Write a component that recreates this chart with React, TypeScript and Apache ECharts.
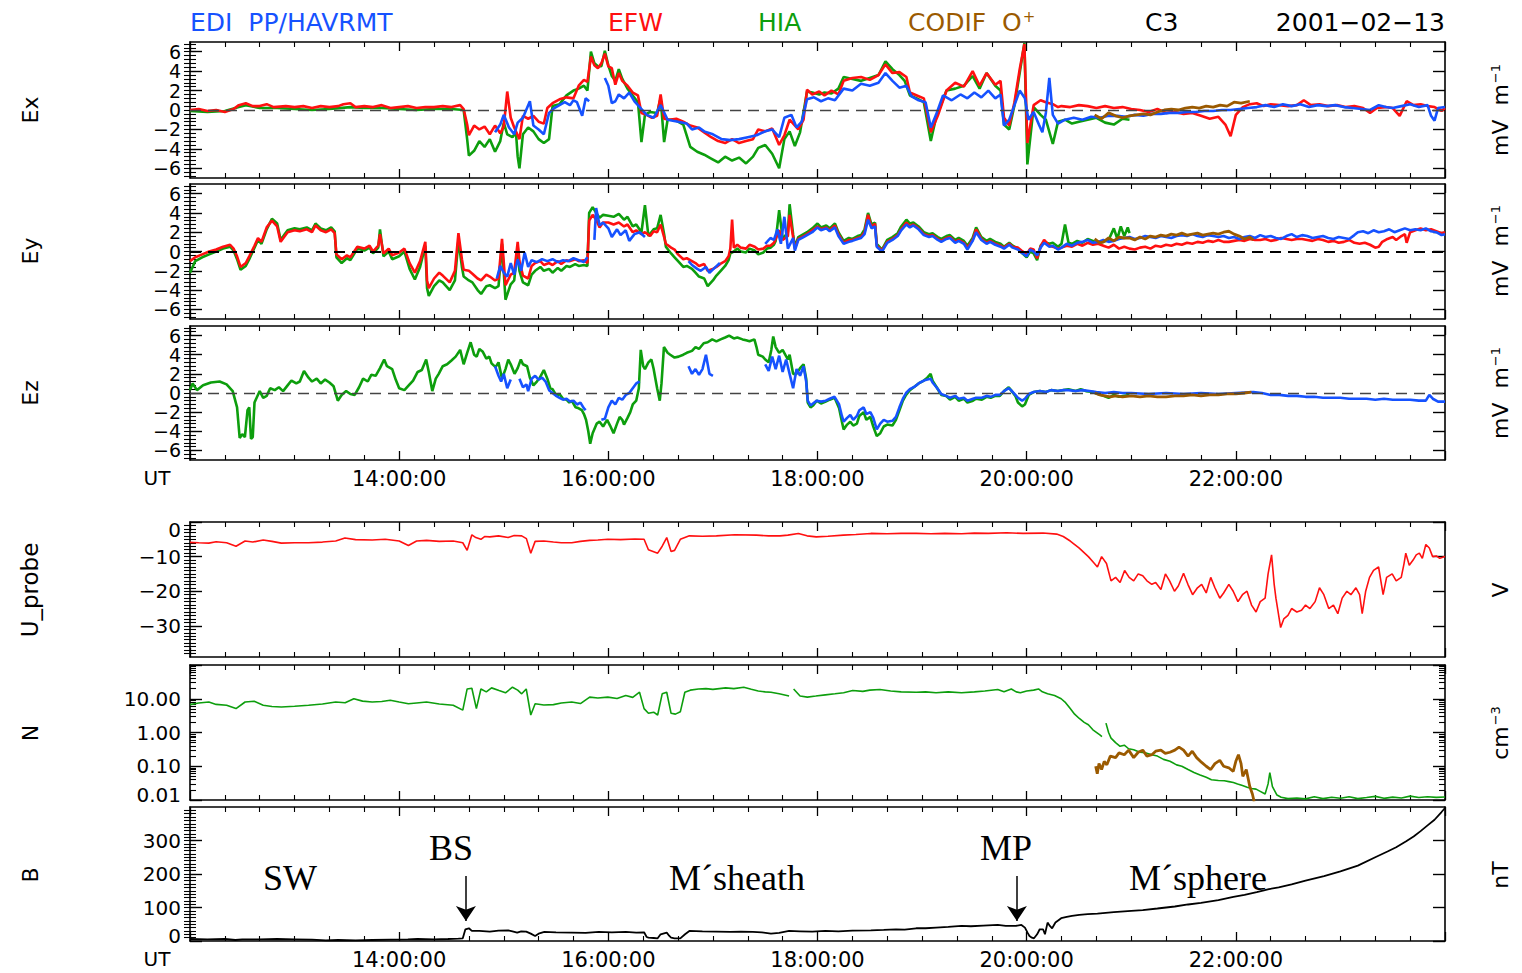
import React, { useEffect, useRef } from 'react';
import * as echarts from 'echarts';

type P = [number, number | null];

// x values are minutes after 12:00 UT (2001-02-13)
const X_MIN = 0;
const X_MAX = 720;
const X_STEP = 120;

const E_LABELS = [-6, -4, -2, 0, 2, 4, 6];
const U_LABELS = [-30, -20, -10, 0];
const B_LABELS = [0, 100, 200, 300];

// ---------------- Ex (mV/m) ----------------
const EX_EFW: P[] = [[0,0],[5,.1],[10,-.1],[15,0],[20,-.2],[25,.1],[28,.5],[32,.7],[36,.4],[40,.4],[44,.6],[48,.3],[55,.4],[60,.3],[65,.4],[70,.2],[75,.4],[80,.3],[85,.4],[88,.6],[92,.7],[95,.3],[100,.4],[105,.3],[110,.5],[115,.2],[120,.3],[125,.4],[130,.2],[135,.3],[140,.3],[145,.4],[150,.3],[155,.5],[157,.1],[159,-1.5],[160,-2.6],[163,-1.6],[166,-2],[169,-1.7],[172,-2.5],[175,-1.6],[178,-2.4],[180,-1.7],[182,1.9],[184,-.8],[186,-1.8],[188,-2.6],[189,-3],[191,-.6],[194,-.9],[197,-.6],[200,-1.2],[203,-1.4],[205,.2],[208,.7],[212,1.1],[216,1.3],[220,1.2],[223,2.5],[226,3.1],[228,2.9],[230,5.5],[232,4.6],[234,4.3],[236,4.8],[238,5.8],[240,4.5],[242,4.3],[244,2.6],[246,3.8],[248,3],[251,2.5],[254,1.8],[257,1.5],[259,-.3],[262,-.5],[265,-.8],[268,-.6],[270,1.6],[272,-.9],[275,-1],[279,-.9],[283,-1.2],[287,-1.6],[291,-1.8],[295,-2.3],[299,-2.8],[303,-3.2],[307,-3.4],[311,-3],[315,-3.4],[319,-3.2],[323,-3],[326,-2],[330,-2.2],[334,-1.9],[338,-3.6],[341,-2.6],[344,-1],[349,-2],[352,-1],[354,2.1],[357,1.6],[361,1.9],[364,1.5],[368,2],[372,1.6],[375,3],[380,3.3],[385,3.4],[390,3.1],[395,3.6],[399,4.7],[403,3.8],[407,3.9],[411,3.4],[413,1.8],[417,1.5],[421,1.2],[425,-2.3],[429,-.6],[434,2],[439,2.8],[444,2.4],[449,4],[453,2.5],[457,3.8],[462,2.6],[465,3],[467,-.8],[470,-1.6],[473,.8],[476,4.2],[478.7,6.8],[480.4,-3.4],[484,.5],[488,1],[491,.8],[495,.6],[498,.3],[500,.4],[505,.3],[510,.5],[515,.4],[520,.2],[525,.4],[530,.2],[535,.3],[540,.1],[545,0],[550,-.2],[555,.1],[560,-.3],[565,-.2],[570,-.4],[575,-.3],[580,-.6],[585,-.9],[590,-.7],[594,-1.5],[597,-2.7],[600,-.5],[604,.3],[608,.6],[612,.7],[616,.4],[620,.6],[625,.5],[630,.4],[635,.5],[639,1],[643,.5],[648,.6],[653,.4],[658,.5],[663,.3],[668,.4],[673,.2],[677,-.3],[681,.2],[686,.3],[690,.2],[694,-.6],[698,.9],[702,.5],[706,.6],[710,.4],[714,.3],[718,-.1],[720,.2]];
const EX_HIA: P[] = [[0,-.1],[10,-.2],[20,-.1],[28,.3],[32,.5],[40,.2],[50,.2],[60,.1],[70,0],[80,.1],[92,.3],[100,.2],[110,.2],[120,.1],[130,0],[140,.1],[150,.1],[157,0],[159,-3],[160,-4.7],[163,-4.2],[166,-3.2],[169,-3.8],[172,-3],[175,-4.3],[178,-3.2],[180,-1.3],[182,-2.5],[185,-2.8],[187,-2.3],[188,-4.8],[189,-6],[191,-2.5],[194,-1.8],[197,-2.2],[200,-3],[203,-3.4],[206,-3],[208,.4],[212,.6],[216,1.5],[220,2],[223,2.2],[226,2.5],[228,2],[230,6],[232,4.8],[234,4.5],[236,4.5],[238,6.1],[240,4.6],[242,3.5],[244,3],[246,4.2],[248,3.2],[251,2.2],[254,1.5],[257,.8],[259,-3.3],[261,-.5],[264,-.2],[268,-.3],[270,1.2],[272,-3.3],[274,-1],[278,-1],[283,-1.5],[287,-3.8],[291,-4.3],[295,-4.6],[299,-5],[303,-5.4],[307,-4.8],[311,-5.2],[315,-4.9],[319,-5.5],[323,-4.8],[326,-3.9],[330,-3.6],[334,-4.5],[338,-6],[341,-3],[344,-2.2],[347,-3.7],[350,-2.3],[354,1.9],[357,1.8],[361,1.6],[364,1.8],[368,1.7],[372,2.2],[375,3.4],[380,3.2],[385,3],[390,3.3],[395,3.6],[399,5],[403,4.2],[407,3.6],[410,3],[413,1.5],[417,1.2],[421,.8],[425,-3.2],[428,-.8],[434,2],[439,2.2],[444,2.5],[449,3.5],[453,2.2],[457,3.8],[462,2.5],[465,2],[467,-1.5],[470,-2],[473,.5],[476,3.8],[478.7,6.9],[480.4,-5.6],[484,.3],[488,-.5],[491,-1],[495,-3.5],[498,-1.2],[502,-1],[506,-1.4],[510,-1.2],[515,-1],[520,-.8],[525,-1.3],[530,-1.5],[535,-.9],[539,-1]];
const EX_EDI: P[] = [[175,-2.3],[178,-1.5],[180,-.5],[183,-1.8],[186,-2.5],[188,-1.3],[191,-.8],[195,.9],[197,-1.6],[200,-2],[203,-2.5],[206,-.3],[209,.2],[212,.5],[215,.8],[218,.5],[220,1],[222,.8],[225,-.6],[227,1.2],[229,.9],[233,null],[238,3.3],[240,2.5],[242,.7],[244,.9],[246,1.6],[249,1.2],[252,1.8],[255,.9],[258,.3],[262,-.5],[266,-.8],[270,.5],[274,-1],[280,-1.2],[285,-1.4],[288,-2],[292,-1.8],[295,-2.2],[300,-2.5],[305,-3],[310,-3.1],[315,-3],[320,-2.8],[325,-2.6],[330,-2.2],[334,-2],[338,-2.8],[341,-.8],[345,-.5],[348,-1.8],[351,-1.2],[354,1.1],[358,1.3],[362,.9],[366,1.2],[370,1],[375,2.2],[380,2],[385,2.7],[390,2.5],[395,2.8],[399,3.8],[403,3],[407,2.3],[411,2.5],[414,1.4],[418,1],[422,.8],[425,-1.8],[428,-.5],[432,1.5],[437,1],[442,1.6],[446,1.2],[450,1.8],[454,1.3],[458,2],[462,1.2],[465,1.6],[467,-1.6],[470,-1],[473,.5],[476,2],[479,1.2],[481,-1],[484,-.2],[487,-1.5],[489,-2.3],[491,-.3],[493,3.3],[495,-.5],[498,-1.4],[502,-1],[507,-.8],[512,-1],[517,-.7],[522,-.8],[527,-.6],[532,-.6],[537,-.7],[542,-.5],[547,-.6],[552,-.4],[557,-.4],[562,-.3],[567,-.3],[572,-.2],[577,-.2],[582,-.1],[587,-.1],[592,0],[597,0],[602,.1],[607,.2],[612,.3],[617,.5],[622,.3],[627,.6],[632,.4],[637,.6],[642,.3],[647,.5],[652,.4],[657,.5],[662,.3],[667,.2],[672,.1],[677,0],[682,.5],[686,.3],[690,.2],[695,.4],[700,.6],[705,.3],[710,.5],[712,-.6],[714,-1.1],[716,.2],[720,.3]];
const EX_CODIF: P[] = [[519,-.5],[523,-.9],[527,-.3],[531,-.6],[535,-.8],[539,-.6],[543,-.5],[547,-.4],[551,-.5],[555,-.2],[559,0],[563,.1],[567,0],[571,.2],[575,.3],[579,.2],[583,.4],[587,.3],[591,.5],[595,.4],[599,.8],[603,.7],[608,.9]];

// ---------------- Ey (mV/m) ----------------
const EY_EFW: P[] = [[0,-1],[3,-.6],[7,-.3],[11,0],[15,.2],[19,.5],[23,.7],[25,.3],[27,-.5],[29,-1.6],[32,-1.2],[34,-.5],[37,.6],[39,1.4],[41,1],[44,2.5],[47,3.2],[50,2.6],[52,1],[54,1.5],[56,2],[60,2.2],[63,2.1],[67,2.3],[70,2],[72,2.7],[75,2.2],[78,2],[81,2.3],[83,1.9],[84,-.3],[87,-.8],[90,-.4],[92,-.6],[96,.5],[100,.3],[103,.6],[105,0],[108,.6],[109,1.8],[111,-.2],[114,.3],[116,-.4],[120,-.1],[123,.3],[126,-1.2],[129,-2.2],[132,-1],[135,1],[136,-3],[137,-3.8],[140,-2.8],[143,-2.2],[145,-2.5],[149,-3.2],[152,-2],[154,1.9],[156,-.8],[157,-1.9],[160,-2],[162,-2.3],[165,-2.8],[167,-3],[170,-2.4],[172,-2.6],[175,-3],[177,-2.8],[179,1.3],[181,-3.5],[184,-2.4],[186,-2.2],[188,1],[189,-1],[191,-2.5],[194,-2.8],[196,-1.5],[198,-1.2],[201,-1],[203,-1.4],[206,-1.2],[208,-1.4],[211,-1],[213,-1.3],[216,-.9],[218,-1],[221,-.8],[223,-1],[226,-.9],[228,-1.2],[229,3.2],[231,3.8],[233,3.3],[235,2.5],[237,3],[240,3],[243,2.8],[246,3],[249,2.6],[251,2.8],[254,2],[256,2.2],[259,1.8],[261,2],[264,1.6],[266,2.1],[268,2],[270,2.8],[272,1.5],[273,.8],[276,.4],[278,.2],[280,-.3],[283,-.8],[285,-.7],[288,-1],[290,-1.2],[292,-1.5],[295,-1.3],[297,-2],[300,-1.8],[302,-1.6],[305,-1.2],[307,-1],[309,-.5],[310,.3],[311,3.3],[312,.4],[314,.7],[316,.4],[319,.3],[321,.7],[324,.5],[326,.2],[329,.3],[331,.6],[333,.6],[335,.9],[336,1.3],[338,2.2],[340,1.2],[343,1.6],[344,3.8],[346,1.5],[347,.3],[349,1.3],[352,1.6],[354,1.8],[357,2.2],[360,2.6],[362,2.3],[365,2.5],[367,2.2],[370,2.7],[372,1.8],[375,.9],[378,1.2],[380,1.2],[383,1.4],[385,1.5],[387,2],[389,3.8],[391,2.5],[393,2.9],[394,.6],[397,.1],[400,1],[403,1.3],[406,1.7],[408,2.3],[411,3],[413,2.6],[415,2.8],[418,2.4],[421,1.8],[424,1.6],[426,1.7],[429,1.3],[431,1.1],[434,1.4],[436,1.5],[439,1],[441,1.2],[444,.9],[446,.4],[449,1.2],[451,2.3],[454,1.3],[457,.9],[459,1.1],[462,.8],[465,.6],[467,.4],[470,.8],[472,.5],[475,.4],[477,.1],[480,-.3],[482,.3],[484,.2],[486,-.7],[488,.5],[490,1.2],[493,.6],[495,.5],[498,.3],[500,.4],[503,.6],[506,.5],[509,.8],[512,.6],[515,.9],[518,.7],[521,.8],[524,.6],[527,.4],[530,.7],[533,.3],[536,.5],[539,.3],[542,.2],[545,.4],[548,.5],[551,.3],[554,.6],[557,.5],[560,.7],[563,.6],[566,.8],[569,.7],[572,.9],[575,.8],[578,1],[581,.9],[584,1.1],[587,1],[590,1.2],[593,1],[596,1],[599,1.1],[602,1.2],[605,1.1],[608,1.3],[611,1.2],[614,1.2],[617,1.3],[620,1.1],[623,1.2],[626,1.4],[629,1.3],[632,1.2],[635,1.3],[638,1.3],[641,1.2],[644,1.1],[647,1.3],[650,1.2],[653,1],[656,1.1],[659,.9],[662,1],[665,1.2],[668,.9],[671,.8],[674,.9],[677,.7],[680,.4],[682,.5],[684,1],[687,1.3],[690,1.5],[692,1.2],[695,1.6],[697,1.8],[698,.9],[700,2],[703,2.2],[706,2.4],[709,2.2],[712,2.3],[715,2.1],[718,1.9],[720,2]];
const EY_HIA: P[] = [[0,-2.2],[3,-1],[7,-.6],[11,-.3],[15,0],[19,.3],[23,.5],[25,.1],[27,-.8],[29,-1.9],[32,-1.5],[34,-.8],[37,.4],[39,1.2],[41,.8],[44,2.3],[47,3.4],[50,2.9],[52,1.2],[54,1.7],[56,2.2],[60,2.4],[63,2.3],[67,2.5],[70,2.2],[72,2.9],[75,2.4],[78,2.2],[81,2.5],[83,2.1],[84,-.6],[87,-1.2],[90,-.7],[92,-.9],[96,.3],[100,.1],[103,.4],[105,-.2],[108,.4],[109,2.3],[111,-.5],[114,0],[116,-.8],[120,-.5],[123,0],[126,-1.8],[129,-2.9],[132,-1.6],[135,.6],[136,-3.8],[137,-4.6],[140,-3.6],[143,-3],[145,-3.2],[149,-4],[152,-3],[154,1.2],[156,-1.6],[157,-2.6],[160,-3],[162,-3.2],[165,-4],[167,-4.4],[170,-3.6],[172,-3.5],[175,-3.8],[177,-3.6],[179,.8],[181,-5],[184,-3.4],[186,-3],[188,.5],[189,-2],[191,-3.2],[194,-3.5],[196,-2.4],[198,-2],[201,-1.6],[203,-2],[206,-1.8],[208,-2.2],[211,-1.7],[213,-2],[216,-1.5],[218,-1.6],[221,-1.3],[223,-1.5],[226,-1.4],[228,-1.5],[229,4],[231,4.6],[233,4],[235,3.5],[237,3.8],[240,3.7],[243,3.6],[246,3.9],[249,3.3],[251,3.6],[254,2.6],[256,2.8],[259,2],[261,4.8],[263,1.6],[266,2.3],[268,2.4],[270,3.8],[272,1.8],[273,.5],[276,-.2],[278,-.6],[280,-1],[283,-1.6],[285,-1.5],[288,-1.8],[290,-2.2],[292,-2.6],[295,-2.8],[297,-3.6],[300,-3],[302,-2.5],[305,-1.9],[307,-1.5],[309,-.9],[310,-.2],[312,0],[314,.3],[316,0],[319,-.1],[321,.3],[324,.1],[326,-.3],[329,-.1],[331,.3],[333,.4],[335,.7],[336,1.1],[338,4.3],[340,1.3],[343,2],[344,4.9],[346,1.8],[347,.5],[349,1.5],[352,1.8],[354,2],[357,2.4],[360,2.9],[362,2.5],[365,2.7],[367,2.4],[370,2.9],[372,2],[375,1.1],[378,1.4],[380,1.3],[383,1.6],[385,1.7],[387,2.3],[389,4],[391,2.8],[393,3],[394,.8],[397,.2],[400,1.2],[403,1.5],[406,1.9],[408,2.6],[411,3.3],[413,2.9],[415,3],[418,2.6],[421,2],[424,1.8],[426,1.9],[429,1.5],[431,1.3],[434,1.6],[436,1.7],[439,1.2],[441,1.4],[444,1.1],[446,.6],[449,1.4],[451,2.5],[454,1.5],[457,1.1],[459,1.3],[462,1],[465,.8],[467,.5],[470,.9],[472,.6],[475,.3],[477,-.1],[480,-.6],[482,0],[484,-.2],[486,-.9],[488,.6],[490,1],[493,.8],[495,.9],[498,.5],[500,.8],[502,2.8],[504,.9],[506,.8],[509,1.1],[512,.9],[515,1.3],[518,1.1],[521,.9],[524,1],[527,1.2],[530,2.4],[532,1.3],[534,2.6],[536,1.6],[538,2.5],[539,1.9]];
const EY_EDI: P[] = [[176,-2.8],[178,-1.5],[180,-2.2],[182,-2.6],[184,-1.2],[186,-2.4],[188,-.8],[190,-2],[192,-.1],[194,-1.6],[196,-.9],[199,-1.1],[202,-.8],[205,-1],[208,-.8],[211,-1.1],[214,-.9],[217,-1],[220,-.7],[223,-.9],[226,-1.1],[228,-.6],[230,null],[232,1.2],[233,4.5],[235,2.7],[237,3],[240,2.4],[242,1.5],[245,2.3],[247,1.7],[250,2.2],[252,1.1],[255,1.8],[258,2],[261,1.5],[270,null],[286,-1],[288,-1.4],[291,-1.8],[293,-2],[296,-1.6],[298,-2.2],[301,-1.7],[304,-1.2],[315,null],[330,.8],[333,1.4],[335,1.2],[337,2.3],[339,.8],[341,3.6],[343,.3],[346,1.4],[347,.1],[349,1.2],[352,1.5],[354,1.7],[357,2],[360,2.5],[362,2.2],[365,2.4],[367,2.1],[370,2.5],[372,1.6],[375,.8],[378,1],[380,1.1],[383,1.3],[385,1.4],[387,1.8],[389,3.3],[391,2.4],[393,2.6],[394,.5],[397,0],[400,.9],[403,1.2],[406,1.6],[408,2.2],[411,2.8],[413,2.5],[415,2.7],[418,2.3],[421,1.7],[424,1.5],[426,1.6],[429,1.2],[431,1],[434,1.3],[436,1.4],[439,.9],[441,1.1],[444,.8],[446,.2],[449,1.1],[451,2],[454,1.2],[457,.8],[459,1],[462,.7],[465,.5],[467,.3],[470,.7],[472,.4],[475,.2],[477,-.1],[480,-.5],[482,.2],[484,0],[486,-.4],[488,.4],[490,.9],[493,.5],[495,.6],[498,.2],[500,.4],[503,.8],[506,.6],[509,.9],[512,1],[515,1.2],[518,.9],[521,1],[524,1.2],[527,1],[530,1.1],[533,1.3],[536,1.4],[539,1.5],[542,1.3],[545,1.4],[548,1.6],[551,1.5],[554,1.4],[557,1.6],[560,1.5],[563,1.4],[566,1.6],[569,1.7],[572,1.6],[575,1.8],[578,1.6],[581,1.5],[584,1.7],[587,1.6],[590,1.5],[593,1.6],[596,1.4],[599,1.5],[602,1.3],[605,1.5],[608,1.6],[611,1.4],[614,1.7],[617,1.5],[620,1.6],[623,1.4],[626,1.3],[629,1.6],[632,1.8],[635,1.5],[638,1.7],[641,1.6],[644,1.4],[647,1.5],[650,1.6],[653,1.4],[656,1.3],[659,1.5],[662,1.4],[665,1.3],[668,1.7],[670,2],[673,2.1],[676,1.9],[679,2.2],[682,2],[685,2.1],[688,2.3],[691,2],[694,2.2],[697,2.4],[700,2.2],[703,2.3],[706,2.2],[709,2.4],[712,2.1],[715,2],[718,1.7],[720,1.8]];
const EY_CODIF: P[] = [[519,1.3],[522,.9],[524,1],[527,1.4],[530,1.1],[533,1.5],[536,1.4],[539,1.4],[542,1.2],[545,1.5],[548,1.3],[551,1.6],[554,1.5],[557,1.7],[560,1.6],[563,1.8],[566,1.7],[569,1.9],[572,1.7],[575,1.8],[578,1.9],[581,1.7],[584,1.8],[587,1.9],[590,1.8],[593,2],[596,2.1],[599,1.8],[602,1.6],[605,1.3],[608,1.5],[610,1.2]];

// ---------------- Ez (mV/m) ----------------
const EZ_HIA: P[] = [[0,.3],[1.5,1],[4,.3],[7.5,.8],[12,1.1],[17,1.2],[21,.9],[24.5,.2],[27,-1.5],[28.5,-4.7],[30,-4.3],[31.5,-4.6],[33,-1.8],[34,-1.5],[35,-4.8],[36,-4.6],[37,-1],[40,.2],[42,-.5],[44,-.3],[46,.5],[48.6,.3],[51,.6],[53.4,.2],[56,.8],[58.2,1.3],[61,1],[63,1.2],[65.4,2.3],[68,1.6],[70,1.2],[72.7,1.5],[75,1],[77.5,1.4],[80,1.1],[82.4,.7],[84.8,-.8],[87,-.2],[89.6,.2],[92,-.1],[94.5,-.2],[97,.6],[99.3,1.5],[102,1.2],[104,1.9],[106.5,1.8],[109,2.6],[111.4,3.5],[113,2.8],[116,2.5],[118,1.4],[120,.5],[123,.3],[126,.9],[128,1.3],[130.6,2.2],[133,2.4],[135.5,3.5],[137,2.2],[139,.2],[141,1.5],[142.7,2],[145,2.8],[147.5,3],[150,3.4],[152.4,3.8],[155,4.5],[157,3],[159,4.2],[161,5.3],[163,4],[164.5,3.8],[166,4.6],[168,4.3],[170,3.6],[171.7,3.8],[173,3.1],[175.3,2.7],[177,3.2],[179,1.5],[181,2.5],[182.6,3.5],[184,3],[186.2,2],[188,2.6],[189.8,3.5],[191,3],[193.4,2.8],[195,1.6],[197,.8],[199,1.2],[200.7,1.6],[203,2.4],[205,1.5],[206.7,.5],[208,.4],[210.3,-.3],[212,-.1],[214,-.6],[216,-.7],[217.6,-1],[219,-.8],[221.2,-1.5],[223,-1.6],[224.8,-1.8],[226,-2.2],[227.2,-2.8],[228.5,-4],[229.6,-5.3],[231,-4.2],[233.3,-3.2],[235,-3],[237,-3.5],[239.3,-2.8],[241,-3.4],[243,-4.2],[245,-3.2],[246.5,-2.5],[248,-2.8],[249,-3.3],[251,-2.6],[252.6,-2],[254,-1.2],[256,-.8],[257.5,.5],[258.6,4.5],[260,2.8],[261,2.5],[263,3.2],[264.7,3.5],[266,2.5],[267,1.5],[268,.5],[269.5,-.8],[270.5,1],[271.9,4.8],[274,4.2],[275.5,4],[278,3.7],[280.3,3.8],[283,4],[285,4.2],[288,4.4],[290,4.8],[292,4.6],[294.7,5.2],[297,5.3],[299.6,5.6],[302,5.4],[304.4,5.6],[307,5.8],[309.3,6],[312,5.7],[314,5.8],[317,5.6],[319,5.5],[321,5.4],[323.8,5.6],[325,4.8],[326,4],[328.6,3.8],[330,3.5],[332,3.2],[333.5,4.5],[334.6,5.9],[336,4.8],[338,4.2],[340,4.5],[343,3.5],[344,4],[346,2],[348,2],[350,2.6],[352,3],[353.5,1.5],[354.4,-1],[356,-1.5],[357.5,-1.3],[359.6,-.8],[362,-1.1],[364.7,-.9],[367,-.7],[369.8,-.5],[371,-1],[372.4,-1.6],[374,-3],[375,-3.8],[377,-3.3],[378.8,-3],[380.5,-3.4],[382.6,-3.2],[384,-2.4],[386.5,-2],[388,-2.8],[390.3,-2.5],[392,-3.5],[394,-4.5],[396,-4.2],[398,-3.5],[400,-3.3],[403,-3.4],[405,-2.8],[407,-1.8],[409,-.8],[410.8,-.2],[413,.3],[416,.7],[418,1],[421,1.3],[423,1.6],[424.9,2],[426,1.3],[428.7,.5],[431,-.2],[433.8,-.3],[436,-.7],[439,-.4],[441,-.8],[444,-.6],[446,-1],[449.2,-.8],[451,-.6],[454.3,-.7],[457,-.4],[459.4,-.5],[462,-.3],[464.6,-.3],[467,.2],[469.7,.6],[471,.3],[473.5,-.3],[475,-1],[477.4,-1.4],[479,-1.2],[481.2,-.2],[484,.1],[487.6,.2],[491,.1],[494,.3],[497.9,.2],[501,.3],[504,.4],[508.1,.2],[511,.4],[514,.2],[518.3,.1],[521,-.1],[524,-.3],[527,-.5],[530,-.2],[533,-.4],[536,-.3],[539,-.2]];
const EZ_EDI: P[] = [[175,2.8],[177,1.8],[178.5,1.2],[180,2],[182,.5],[184,1.4],[186,null],[189,1.5],[191,.6],[193,.9],[194,.2],[196,1.5],[198,1.8],[200,1.4],[202,1.6],[204,1.2],[206,.3],[208,0],[210,-.3],[212,-.5],[214,-.7],[216,-.6],[218,-.9],[220,-.8],[222,-1.2],[224,-1],[226,-1.6],[227,-1.8],[230,null],[236,-2.8],[238,-2.7],[240,-1.5],[242,-.8],[244,-1.2],[246,-.5],[248,-.7],[250,-.2],[252,0],[254,.5],[256,1],[258,1.2],[270,null],[286,2.8],[288,2],[290,2.5],[292,1.9],[294,2.5],[296,4],[298,2],[300,1.8],[310,null],[330,3],[332,2.3],[334,3.8],[336,2.5],[338,3.9],[340,2.2],[342,3.5],[344,2],[346,.5],[348,2.5],[350,1.8],[352,2.8],[353.5,1.2],[354.4,-.8],[356,-1.3],[359.6,-.8],[362,-.9],[364.7,-.8],[367,-.6],[369.8,-.4],[372.4,-1.2],[374,-2.4],[375,-3],[377,-2.6],[378.8,-2.3],[380.5,-2.8],[382.6,-2.4],[384,-1.8],[386.5,-1.5],[388,-2.2],[390.3,-2],[392,-2.6],[394,-3.8],[396,-3.2],[398,-2.8],[400,-3],[403,-2.9],[405,-2.5],[407,-1.5],[409,-.6],[410.8,0],[413,.4],[416,.7],[418,1],[421,1.3],[423,1.4],[424.9,1.5],[426,1.1],[428.7,.5],[431,-.1],[433.8,-.3],[436,-.5],[439,-.3],[441,-.6],[444,-.5],[446,-.8],[449.2,-.6],[451,-.5],[454.3,-.5],[457,-.3],[459.4,-.4],[462,-.2],[464.6,-.2],[467,.2],[469.7,.5],[471,.3],[473.5,-.2],[475,-.5],[477.4,-.8],[479,-.6],[481.2,-.1],[484,.1],[487.6,.2],[491,.1],[494,.3],[497.9,.2],[501,.3],[504,.3],[508,.2],[512,.3],[516,.2],[520,.1],[525,0],[530,.1],[535,0],[540,0],[550,-.1],[560,0],[570,-.1],[580,0],[590,-.1],[600,0],[610,.1],[615,0],[620,-.2],[625,-.2],[630,-.3],[635,-.3],[640,-.4],[645,-.4],[650,-.5],[655,-.5],[660,-.5],[665,-.6],[670,-.6],[675,-.6],[680,-.7],[685,-.6],[690,-.7],[695,-.7],[700,-.7],[705,-.8],[709,-.8],[711,-.2],[713,-.6],[716,-.9],[720,-.9]];
const EZ_CODIF: P[] = [[519,0],[522,-.2],[525,-.3],[528,-.4],[531,-.3],[535,-.4],[540,-.3],[545,-.4],[550,-.3],[555,-.4],[560,-.4],[565,-.3],[570,-.3],[575,-.2],[580,-.3],[585,-.2],[590,-.2],[595,-.1],[600,-.1],[605,0],[609,.1]];

// ---------------- U_probe (V) ----------------
const U_PROBE: P[] = [[0,-5.9],[5,-6],[10.8,-6.1],[15,-5.7],[21,-6],[26.4,-7],[31.6,-5.5],[36,-5.8],[42,-5.2],[47,-5.6],[52.4,-6.1],[60,-6],[68,-6],[76,-5.8],[83.6,-5.5],[88.9,-4.6],[95,-5.1],[104.5,-5.2],[112,-5],[120,-5.5],[125.3,-6.8],[130,-5.5],[135.7,-5.3],[143,-5.6],[151,-5.5],[156.5,-6],[159,-8.2],[161.7,-3.7],[164,-4.5],[166.9,-5],[169,-4.2],[172,-4.3],[177,-4],[182.5,-4.5],[186,-3.9],[190.3,-4],[193,-4.8],[195.5,-9],[198,-5.6],[203,-5.5],[208.5,-5.8],[213,-6],[219,-6],[224,-5.6],[229.3,-5.3],[234,-5.2],[239.7,-5],[247,-5.1],[255.3,-4.9],[260.5,-5],[263,-8],[268.3,-9],[270.9,-7],[273.5,-4.5],[276,-8.5],[278,-8.2],[281.3,-5],[286.5,-4],[294,-4.1],[302,-4],[312.5,-3.7],[325,-3.8],[332,-4],[338.5,-4],[343,-3.8],[349,-3.3],[354,-4],[359.3,-4.3],[366,-4.1],[374.9,-3.8],[382,-3.6],[390.6,-3.3],[400,-3.4],[408,-3.3],[416.6,-3.3],[425,-3.4],[433,-3.3],[442.6,-3.4],[450,-3.2],[458,-3.3],[468.6,-3.1],[478,-3.3],[489.4,-3.2],[497.2,-3.5],[501,-4.2],[505,-5.5],[510,-7.5],[515.4,-10],[518,-11.5],[520.6,-13],[523,-10],[525.8,-12],[528.4,-17],[531,-16],[533.6,-17.5],[536.2,-14],[538.8,-16],[541.4,-17],[544,-15],[546.6,-15.5],[549,-17],[551.8,-18],[554,-17.5],[557,-19.5],[559.6,-15],[562,-17],[564.8,-20],[567,-18.5],[570,-14.8],[572.5,-18],[575.2,-21],[578,-19],[580.4,-18],[583,-20.5],[585.6,-16],[588,-19],[590.8,-22],[593,-20.5],[596,-18],[598.5,-20],[601.2,-23],[603.8,-21],[606.4,-20],[609,-24],[611.6,-26],[614,-23],[616.8,-22],[618.5,-15],[620.5,-9.5],[622,-18],[623,-22],[625.7,-30.5],[627.5,-28],[629.9,-27],[632,-25],[635,-26],[637.7,-25.5],[640,-24],[642.5,-25],[645.5,-23],[648,-19],[650.5,-21],[653.3,-25],[656,-24],[658.5,-26.5],[661,-22],[663.7,-20],[666,-21],[668.9,-19],[671,-21],[672.5,-26.5],[674.5,-20],[676.7,-16],[679,-14],[681.9,-13],[683.2,-17],[684.5,-21],[686.5,-16],[689.7,-15],[692,-17],[694.9,-16],[696.5,-12],[697.5,-9],[699.5,-12.5],[701.7,-11],[703.5,-9.5],[705.3,-9],[707,-10.5],[709,-6.5],[711,-7.5],[712.9,-10],[715,-9.8],[717,-10.5],[720,-10]];

// ---------------- N (cm^-3) ----------------
const N_HIA: P[] = [[0,6.7],[5,7.5],[10.8,8],[15,6.8],[21,6.4],[26.4,5.1],[31.6,8],[36.8,8.4],[42,6.4],[47,5.9],[52.4,5.7],[60,6],[68,6.4],[76,7],[83.6,8],[89,7.6],[94,10],[99,8.5],[104.5,8],[110,8.3],[114.9,9],[120,8],[125.3,7.1],[130,7.5],[135.7,8],[143,7],[151,6.4],[156.5,4.6],[159,19.5],[161.7,20.5],[164.3,5.1],[166.9,19.5],[170,16],[173,21],[177.3,17.5],[181,15],[185,22],[188,18],[190.3,14],[192.9,19.5],[195.5,3.3],[198,7.1],[203,6.5],[208.5,6.7],[213,7.5],[219,8],[224,7.2],[229.3,11.2],[234,10.5],[239.7,11.2],[245,10.2],[250,12.5],[254,11],[257.9,15.6],[260.5,5.1],[263,3.7],[266,4],[268.3,3.3],[270.9,14],[273.5,15.6],[276,3.7],[278.5,3.5],[281.3,4.1],[283.9,15.6],[287,18],[291.7,19.5],[296,20],[300,19],[307.3,21],[312,20],[317.7,22],[322,19],[326,17],[330,16],[333.3,15.6],[338,14],[343.7,12],[345,null],[346.3,19.5],[350,12],[354.2,11.2],[359,12],[364.5,13],[370,14],[375,15],[380.2,17.5],[386,16.5],[390,18],[395.8,18.7],[402,17],[408,16],[416.6,15.6],[422,16],[428,15],[435,16],[442.6,15],[450,16],[456,17],[463.4,18.7],[467,16],[471.2,19.5],[474,16],[476.4,15],[480,17],[484,18],[486.8,19.5],[489,16],[492,14],[496,12.5],[499.8,10],[502,8],[505,5.1],[507.5,3.5],[510.2,2.6],[513,2],[515.4,1.7],[518,1.2],[520.6,.96],[522,.85],[523.2,.76],[524.5,null],[525.5,1.9],[527,1],[528.4,.68],[531,.5],[533.6,.39],[536,.42],[538.5,.33],[541.4,.31],[545,.26],[548,.25],[551.8,.22],[555,.2],[558.5,.16],[562.2,.14],[566,.11],[569,.1],[572.6,.08],[576,.065],[579.5,.055],[583,.047],[586,.04],[590,.038],[593.4,.037],[596,.035],[598.6,.033],[601,.03],[603.8,.027],[606.5,.024],[609,.022],[611.6,.021],[614,.018],[616.8,.015],[618.5,.03],[619.5,.065],[621,.025],[623.6,.014],[626,.012],[629.9,.011],[635,.0115],[640,.0108],[645,.0125],[650,.011],[655,.012],[660,.0113],[665,.0125],[670,.011],[675,.0118],[680,.0128],[685,.0112],[690,.0122],[695,.0115],[700,.013],[705,.0118],[710,.0125],[715,.012],[720,.0123]];
const N_CODIF: P[] = [[519.6,.1],[520.5,.06],[521.5,.12],[523,.08],[524.5,.14],[526,.11],[528,.2],[531,.18],[533,.25],[536,.22],[538.5,.3],[541.4,.18],[544,.26],[546.6,.3],[549,.2],[551.8,.22],[554,.28],[557,.3],[559.5,.24],[562.2,.26],[565,.3],[567.4,.37],[570,.3],[572.6,.2],[575,.28],[577.5,.18],[580.4,.13],[583,.1],[585.6,.08],[588,.12],[590.8,.15],[593,.1],[596,.09],[598.5,.07],[600,.14],[601.5,.22],[603,.12],[604,.05],[606,.08],[608,.025],[609.5,.015],[610.5,.009]];

// ---------------- B (nT) ----------------
const B_FGM: P[] = [[0,6],[10,5],[20,6],[26,3],[30,5],[40,5],[50,6],[60,5],[70,4],[78,2],[85,3],[95,2],[104.5,3],[115,4],[125,5],[130.5,6],[140,5],[148,6],[154,7],[156.5,8],[158,35],[160,38],[161.7,30],[166,30],[172,28],[177,31],[182.5,32],[185,29],[187.7,25],[190,29],[192.9,28],[195.5,22],[198,15],[200,22],[203.3,27],[210,26],[219,25],[227,24],[234.5,27],[242,26],[250,27],[256,25],[260.5,26],[262,12],[263,10],[266,9],[268.3,8],[270,20],[273.5,25],[275,15],[276,10],[278,8],[281.3,8],[284,20],[286.5,30],[294,29],[302,28],[310,27],[316,28],[322.9,27],[328,26],[333.3,22],[338,24],[343.7,30],[350,29],[357,28],[364.5,30],[372,29],[380,31],[390.6,32],[398,33],[405,35],[410,34],[416.6,38],[422,38],[428,40],[435,42],[442.6,45],[448,44],[455,46],[463.4,48],[468,45],[473.8,45],[477,48],[479,40],[480.5,25],[481.6,15],[483,10],[484.2,8],[486,20],[487.5,35],[489.4,35],[490.5,20],[492,55],[493.3,45],[494.6,38],[496.5,55],[499.8,68],[503,72],[506,75],[510.2,78],[515,80],[520.6,82],[530,86],[540,90],[546.6,92],[555,97],[565,103],[572.6,109],[580,114],[590,122],[598.6,132],[605,138],[612,146],[619,155],[624.6,160],[632,169],[640,180],[650.6,194],[660,208],[670,225],[680,250],[687,267],[692,280],[697.5,297],[702,312],[706,328],[710,345],[714,362],[718,385],[720,397]];

// annotation anchors (minutes, nT)
const BS_TIME = 158.3;
const MP_TIME = 474.4;
const ARROW_TOP = 194;
const ARROW_TIP = 60;

const BLUE = '#1652ff';
const RED = '#ff1010';
const GREEN = '#0d9e0d';
const BROWN = '#9b5a00';
const FONT = 'DejaVu Sans';
const SERIF = 'Liberation Serif';

const GRIDS = [
  { top: 42, height: 136 },
  { top: 184, height: 135 },
  { top: 326, height: 134 },
  { top: 522, height: 135 },
  { top: 665, height: 135 },
  { top: 807, height: 134 },
];

function range(a: number, b: number, s: number) {
  const out: number[] = [];
  for (let v = a; v <= b + 1e-9; v += s) out.push(Math.round(v * 1000) / 1000);
  return out;
}

const toData = (arr: P[]) => arr.map(([m, v]) => [m, v === null ? '-' : v]);

const minus = (v: number) => (v < 0 ? '\u2212' + Math.abs(v) : String(v));

const richBase = { fontFamily: FONT, fontSize: 20, color: '#000' };
const RICH = {
  up: { ...richBase, padding: [0, 0, 11, 0] },
  dn: { ...richBase, padding: [16, 0, 0, 0] },
};

function xAxes(g: number, showLabels: boolean) {
  const common = {
    type: 'value', gridIndex: g, min: X_MIN, max: X_MAX, interval: X_STEP,
    axisLine: { show: true, onZero: false, lineStyle: { color: '#000', width: 1.6 } },
    axisTick: { show: true, inside: true, length: 9, lineStyle: { color: '#000', width: 1.3 } },
    minorTick: { show: true, splitNumber: 6, length: 5, lineStyle: { color: '#000', width: 1.1 } },
    splitLine: { show: false }, minorSplitLine: { show: false },
  };
  return [
    { ...common, position: 'bottom', axisLabel: {
      show: showLabels, fontFamily: FONT, fontSize: 21, color: '#000', margin: 8,
      formatter: (v: number) => (v <= X_MIN || v >= X_MAX ? '' : `${12 + v / 60}:00:00`),
    } },
    { ...common, position: 'top', axisLabel: { show: false } },
  ];
}

function yAxes(g: number, type: string, min: number, max: number, labels: number[] | null,
  minors: number[] | null, fmt: (v: number) => string, fontSize = 20) {
  const base: any = { type, gridIndex: g, min, max, splitLine: { show: false }, minorSplitLine: { show: false } };
  if (type === 'log') base.logBase = 10;
  const line = { show: true, onZero: false, lineStyle: { color: '#000', width: 1.6 } };
  const majorTick: any = { show: true, inside: true, length: 12, lineStyle: { color: '#000', width: 1.4 } };
  if (labels) majorTick.customValues = labels;
  const minorTickAxis: any = minors
    ? { show: true, inside: true, length: 6, lineStyle: { color: '#000', width: 1.1 }, customValues: minors }
    : { show: false };
  const minorTickBuiltIn = type === 'log'
    ? { show: true, splitNumber: 9, length: 6, lineStyle: { color: '#000', width: 1.1 } }
    : { show: false };
  const label: any = {
    show: true, fontFamily: FONT, fontSize, lineHeight: fontSize - 1, color: '#000', margin: 9,
    formatter: fmt, rich: RICH, showMinLabel: true, showMaxLabel: true,
  };
  if (labels) label.customValues = labels;
  return [
    { ...base, position: 'left', axisLine: line, axisTick: majorTick, minorTick: minorTickBuiltIn, axisLabel: label },
    { ...base, position: 'left', axisLine: { show: false }, axisTick: minorTickAxis, axisLabel: { show: false } },
    { ...base, position: 'right', axisLine: line, axisTick: majorTick, minorTick: minorTickBuiltIn, axisLabel: { show: false } },
    { ...base, position: 'right', axisLine: { show: false }, axisTick: minorTickAxis, axisLabel: { show: false } },
  ];
}

function line(name: string, g: number, data: P[], color: string, width: number, extra: any = {}) {
  return {
    name, type: 'line', xAxisIndex: 2 * g, yAxisIndex: 4 * g, data: toData(data),
    showSymbol: false, symbol: 'none', connectNulls: false, clip: true,
    lineStyle: { color, width }, itemStyle: { color }, emphasis: { disabled: true },
    ...extra,
  };
}

const zeroLine = (color: string, width: number) => ({
  markLine: {
    silent: true, symbol: 'none', label: { show: false },
    lineStyle: { type: [11, 7], color, width }, data: [{ yAxis: 0 }],
  },
});

function txt(x: number, y: number, text: string, o: any = {}) {
  const align = o.align || 'left';
  const va = o.va || 'middle';
  return {
    type: 'text', x, y, rotation: o.rotation || 0, silent: true,
    style: {
      text, fill: o.color || '#000', fontFamily: o.font || FONT, fontSize: o.size || 22,
      align, textAlign: align, verticalAlign: va, textVerticalAlign: va, rich: o.rich,
    },
  };
}

const supRich = (size: number, color: string) => ({
  b: { fontFamily: FONT, fontSize: size, fill: color, color },
  s: { fontFamily: FONT, fontSize: Math.round(size * 0.6), fill: color, color, verticalAlign: 'top', padding: [0, 0, 8, 1] },
});

export default function App() {
  const ref = useRef<HTMLDivElement>(null);
  useEffect(() => {
    document.body.style.margin = '0';
    const chart = echarts.init(ref.current!, null, { renderer: 'svg' });
    const eMinors = range(-6.8, 6.8, 0.4);
    const fmtU = (v: number) => (v === 0 ? '{dn|0}' : minus(v));
    const fmtB = (v: number) => (v === 0 ? '{up|0}' : String(v));
    const fmtN = (v: number) => {
      if (v > 50) return '';
      if (Math.abs(v - 0.01) < 1e-6) return '{up|0.01}';
      return v.toFixed(2);
    };
    const R = Math.PI / 2;
    const option: any = {
      animation: false,
      backgroundColor: '#fff',
      grid: GRIDS.map((g) => ({ left: 190, right: 77, top: g.top, height: g.height, containLabel: false, outerBoundsMode: 'none' })),
      xAxis: [
        ...xAxes(0, false), ...xAxes(1, false), ...xAxes(2, true),
        ...xAxes(3, false), ...xAxes(4, false), ...xAxes(5, true),
      ],
      yAxis: [
        ...yAxes(0, 'value', -7, 7, E_LABELS, eMinors, minus, 19),
        ...yAxes(1, 'value', -7, 7, E_LABELS, eMinors, minus, 19),
        ...yAxes(2, 'value', -7, 7, E_LABELS, eMinors, minus, 19),
        ...yAxes(3, 'value', -39, 0, U_LABELS, range(-38, -1, 1), fmtU),
        ...yAxes(4, 'log', 0.01, 100, null, null, fmtN),
        ...yAxes(5, 'value', 0, 400, B_LABELS, range(10, 390, 10), fmtB),
      ],
      series: [
        line('HIA Ex', 0, EX_HIA, GREEN, 2.6, zeroLine('#444', 1.3)),
        line('EFW Ex', 0, EX_EFW, RED, 2.6),
        line('EDI Ex', 0, EX_EDI, BLUE, 2.6),
        line('CODIF Ex', 0, EX_CODIF, BROWN, 2.8),
        line('HIA Ey', 1, EY_HIA, GREEN, 2.6, zeroLine('#000', 2)),
        line('EFW Ey', 1, EY_EFW, RED, 2.6),
        line('EDI Ey', 1, EY_EDI, BLUE, 2.6),
        line('CODIF Ey', 1, EY_CODIF, BROWN, 2.8),
        line('HIA Ez', 2, EZ_HIA, GREEN, 2.6, zeroLine('#444', 1.3)),
        line('EDI Ez', 2, EZ_EDI, BLUE, 2.6),
        line('CODIF Ez', 2, EZ_CODIF, BROWN, 2.8),
        line('U_probe', 3, U_PROBE, RED, 1.6),
        line('HIA N', 4, N_HIA, GREEN, 1.6),
        line('CODIF N', 4, N_CODIF, BROWN, 2.8),
        line('B', 5, B_FGM, '#000', 1.8, {
          markLine: {
            silent: true, symbol: ['none', 'arrow'], symbolSize: 15, label: { show: false },
            lineStyle: { type: 'solid', color: '#000', width: 1.5 },
            data: [
              [{ coord: [BS_TIME, ARROW_TOP] }, { coord: [BS_TIME, ARROW_TIP] }],
              [{ coord: [MP_TIME, ARROW_TOP] }, { coord: [MP_TIME, ARROW_TIP] }],
            ],
          },
        }),
      ],
      graphic: [
        txt(190, 22, 'EDI  PP/HAVRMT', { color: BLUE, size: 25 }),
        txt(608, 22, 'EFW', { color: RED, size: 25 }),
        txt(758, 22, 'HIA', { color: GREEN, size: 25 }),
        txt(908, 22, '{b|CODIF  O}{s|+}', { color: BROWN, rich: supRich(25, BROWN) }),
        txt(1145, 22, 'C3', { size: 25 }),
        txt(1445, 22, '2001\u221202\u221213', { size: 25, align: 'right' }),
        txt(30, 110, 'Ex', { align: 'center', rotation: R, size: 22 }),
        txt(30, 251, 'Ey', { align: 'center', rotation: R, size: 22 }),
        txt(30, 393, 'Ez', { align: 'center', rotation: R, size: 22 }),
        txt(30, 590, 'U_probe', { align: 'center', rotation: R, size: 23 }),
        txt(30, 733, 'N', { align: 'center', rotation: R, size: 22 }),
        txt(30, 875, 'B', { align: 'center', rotation: R, size: 22 }),
        txt(1500, 110, '{b|mV  m}{s|\u22121}', { align: 'center', rotation: R, rich: supRich(22, '#000') }),
        txt(1500, 251, '{b|mV  m}{s|\u22121}', { align: 'center', rotation: R, rich: supRich(22, '#000') }),
        txt(1500, 393, '{b|mV  m}{s|\u22121}', { align: 'center', rotation: R, rich: supRich(22, '#000') }),
        txt(1500, 590, 'V', { align: 'center', rotation: R, size: 22 }),
        txt(1500, 733, '{b|cm}{s|\u22123}', { align: 'center', rotation: R, rich: supRich(22, '#000') }),
        txt(1500, 875, 'nT', { align: 'center', rotation: R, size: 22 }),
        txt(157, 478, 'UT', { align: 'center', size: 20 }),
        txt(157, 959, 'UT', { align: 'center', size: 20 }),
        txt(290, 878, 'SW', { align: 'center', font: SERIF, size: 36 }),
        txt(451, 848, 'BS', { align: 'center', font: SERIF, size: 36 }),
        txt(737, 878, 'M\u00B4sheath', { align: 'center', font: SERIF, size: 36 }),
        txt(1006, 848, 'MP', { align: 'center', font: SERIF, size: 36 }),
        txt(1198, 878, 'M\u00B4sphere', { align: 'center', font: SERIF, size: 36 }),
      ],
    };
    chart.setOption(option);
    return () => chart.dispose();
  }, []);
  return <div ref={ref} style={{ width: 1522, height: 973 }} />;
}
